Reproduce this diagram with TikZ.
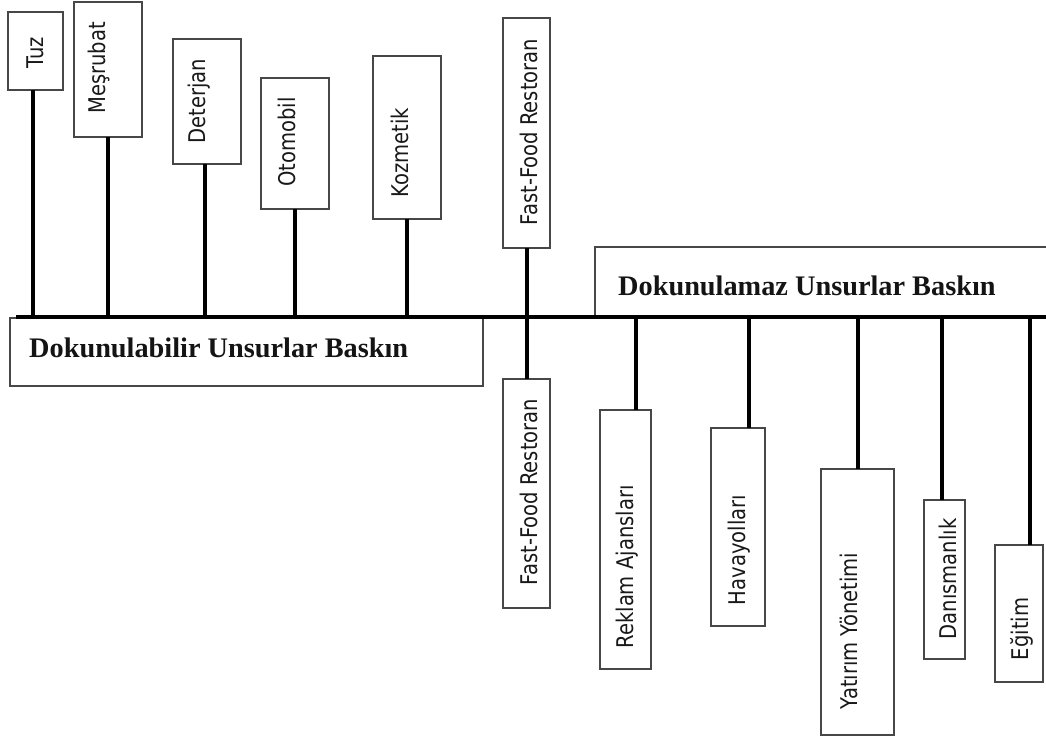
\documentclass[tikz,border=0pt]{standalone}
\usepackage{fontspec}
\newfontfamily\itemfont[FakeStretch=0.85]{DejaVu Sans}
\newfontfamily\titlefont{Liberation Serif}
\begin{document}
\begin{tikzpicture}[x=1pt,y=-1pt,
  item/.style={draw=black!72, line width=1.2pt, fill=white, rectangle,
    inner sep=0pt, outer sep=0pt, anchor=north west},
  itemtext/.style={font=\itemfont\fontsize{23}{26}\selectfont, rotate=90,
    inner sep=0pt, anchor=base, text=black!90},
  title/.style={font=\titlefont\bfseries\fontsize{28.3}{34}\selectfont,
    inner sep=0pt, anchor=base west, text=black!92},
  stem/.style={line width=4pt, black},
  axis/.style={line width=4pt, black}]
\useasboundingbox (0,0) rectangle (1046,740);

% group boxes
\node[item, minimum width=473pt, minimum height=68pt] (tanbox) at (10,318) {};
\node[title] (tantitle) at (29,357) {Dokunulabilir Unsurlar Baskın};
\node[item, minimum width=460pt, minimum height=70pt] (intbox) at (595,247) {};
\node[title] (inttitle) at (618,295) {Dokunulamaz Unsurlar Baskın};

% main axis
\coordinate (axL) at (16,316.5);
\coordinate (axR) at (1050,316.5);
\draw[axis] (axL) -- (axR);

% items above the axis
\node[item, minimum width=55pt, minimum height=78pt]  (tuz) at (8,12) {};
\node[item, minimum width=68pt, minimum height=135pt] (mes) at (74,2) {};
\node[item, minimum width=68pt, minimum height=125pt] (det) at (173,39) {};
\node[item, minimum width=68pt, minimum height=131pt] (oto) at (261,78) {};
\node[item, minimum width=68pt, minimum height=163pt] (koz) at (373,56) {};
\node[item, minimum width=47pt, minimum height=230pt] (ffu) at (503,18) {};

\node[itemtext] (tuzT) at (43,53)   {Tuz};
\node[itemtext] (mesT) at (105,68)  {Meşrubat};
\node[itemtext] (detT) at (205,101) {Deterjan};
\node[itemtext] (otoT) at (295,142) {Otomobil};
\node[itemtext] (kozT) at (408,153) {Kozmetik};
\node[itemtext] (ffuT) at (537,132) {Fast-Food Restoran};

% items below the axis
\node[item, minimum width=47pt, minimum height=229pt] (ffl) at (503,379) {};
\node[item, minimum width=51pt, minimum height=259pt] (rek) at (600,410) {};
\node[item, minimum width=54pt, minimum height=198pt] (hav) at (711,428) {};
\node[item, minimum width=73pt, minimum height=266pt] (yat) at (821,469) {};
\node[item, minimum width=41pt, minimum height=159pt] (dan) at (924,500) {};
\node[item, minimum width=48pt, minimum height=137pt] (egi) at (995,545) {};

\node[itemtext] (fflT) at (537,492)  {Fast-Food Restoran};
\node[itemtext] (rekT) at (633,567)  {Reklam Ajansları};
\node[itemtext] (havT) at (745,550)  {Havayolları};
\node[itemtext] (yatT) at (857,631)  {Yatırım Yönetimi};
\node[itemtext] (danT) at (956,579)  {Danısmanlık};
\node[itemtext] (egiT) at (1028,629) {Eğitim};

% stems joining the items to the axis
\draw[stem] ([xshift=-2.5pt]tuz.south) -- ([xshift=-2.5pt]tuz.south |- axL);
\draw[stem] (mes.south) -- (mes.south |- axL);
\draw[stem] ([xshift=-2pt]det.south) -- ([xshift=-2pt]det.south |- axL);
\draw[stem] (oto.south) -- (oto.south |- axL);
\draw[stem] (koz.south) -- (koz.south |- axL);
\draw[stem] (ffu.south) -- (ffl.north);
\draw[stem] ([xshift=10.5pt]rek.north) -- ([xshift=10.5pt]rek.north |- axL);
\draw[stem] ([xshift=11pt]hav.north) -- ([xshift=11pt]hav.north |- axL);
\draw[stem] ([xshift=0.5pt]yat.north) -- ([xshift=0.5pt]yat.north |- axL);
\draw[stem] ([xshift=-2.5pt]dan.north) -- ([xshift=-2.5pt]dan.north |- axL);
\draw[stem] ([xshift=11pt]egi.north) -- ([xshift=11pt]egi.north |- axL);
\end{tikzpicture}
\end{document}
